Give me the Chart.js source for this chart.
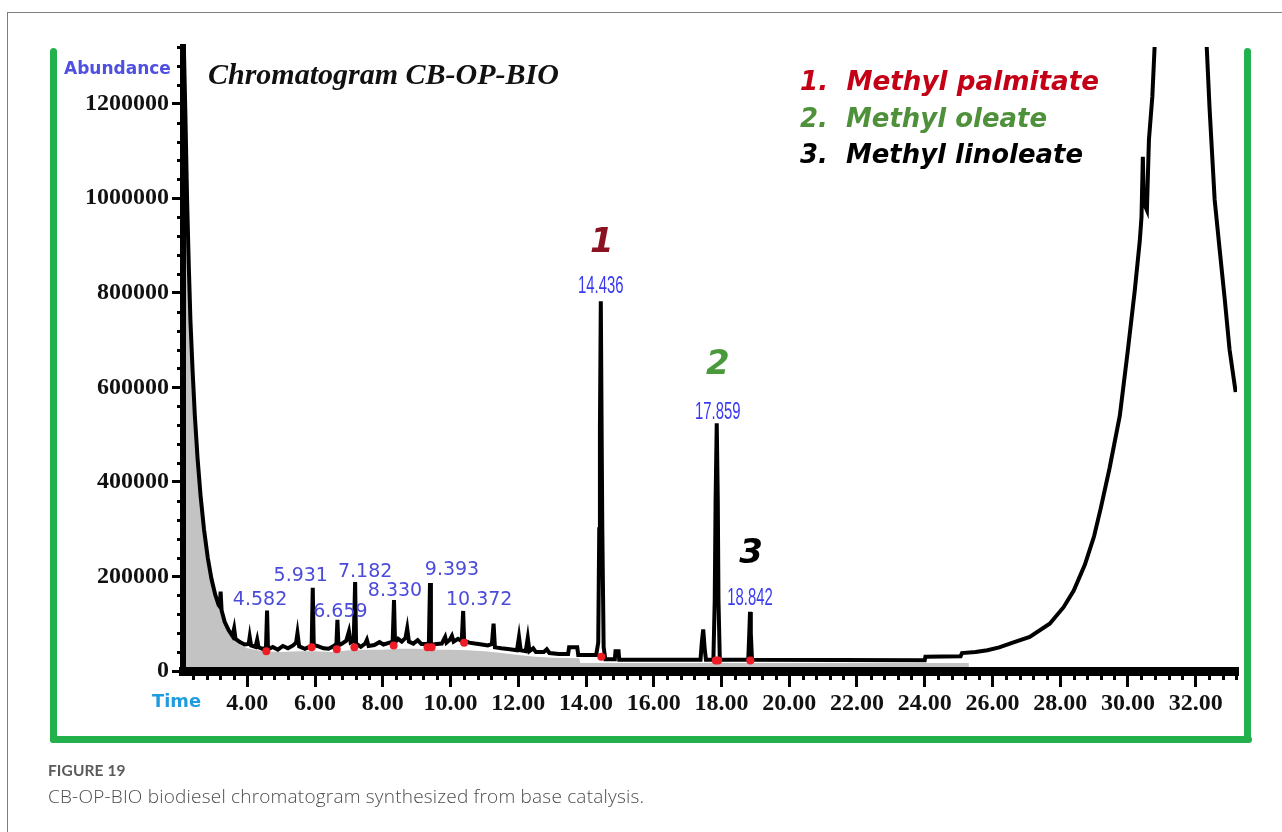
<!DOCTYPE html>
<html>
<head>
<meta charset="utf-8">
<script src="https://cdn.jsdelivr.net/npm/chart.js@4.4.0/dist/chart.umd.min.js"></script>
<style>
  html, body { margin: 0; padding: 0; background: #fff; width: 1282px; height: 832px; overflow: hidden; }
  #wrap { position: relative; width: 1282px; height: 832px; }
  #chrom { position: absolute; left: 0; top: 0; }
  .card-top { position: absolute; left: 7px; top: 12px; width: 1275px; height: 1px; background: #7d7d7d; }
  .card-left { position: absolute; left: 7px; top: 12px; width: 1px; height: 820px; background: #7d7d7d; }
  .frame { position: absolute; background: #22b14c; border-radius: 4px; }
  .fig-no { position: absolute; left: 48px; top: 761px; font: 700 15.5px 'Lato', sans-serif; color: #5b5b5b; letter-spacing: 0.1px; }
  .fig-cap { position: absolute; left: 48px; top: 783px; font: 300 19px 'Open Sans', sans-serif; color: #4d4d4d; white-space: nowrap; letter-spacing: 0.2px; }
</style>
</head>
<body>
<div id="wrap">
  <div class="card-top"></div>
  <div class="card-left"></div>
  <div class="frame" style="left:50px; top:48px; width:7px; height:695px;"></div>
  <div class="frame" style="left:50px; top:736px; width:1202px; height:7px;"></div>
  <div class="frame" style="left:1244px; top:48px; width:7px; height:695px;"></div>
  <canvas id="chrom" width="1282" height="832"></canvas>
  <div class="fig-no">FIGURE 19</div>
  <div class="fig-cap">CB-OP-BIO biodiesel chromatogram synthesized from base catalysis.</div>
</div>
<script>
// Retention time axis (min) and abundance axis
const xTickValues = [4, 6, 8, 10, 12, 14, 16, 18, 20, 22, 24, 26, 28, 30, 32];
const yTickValues = [0, 200000, 400000, 600000, 800000, 1000000, 1200000];

// Labelled peaks: retention time and apex abundance
const peakTime  = [4.582, 5.931, 6.659, 7.182, 8.330, 9.393, 10.372, 14.436, 17.859, 18.842];
const peakAbund = [128000, 176000, 108000, 188000, 150000, 186000, 127000, 782000, 524000, 125000];

// Identified compounds and the peak each one belongs to
const compoundNames = ['Methyl palmitate', 'Methyl oleate', 'Methyl linoleate'];
const compoundPeak  = [14.436, 17.859, 18.842];

// Total ion chromatogram (without the labelled apexes, which are merged in below)
const traceTime = [
  2.10, 2.17, 2.22, 2.27, 2.32, 2.38, 2.45, 2.53, 2.62, 2.72, 2.83, 2.94, 3.05, 3.15, 3.19, 3.21, 3.24, 3.33, 3.45, 3.56,
  3.61, 3.65, 3.78, 3.92, 4.04, 4.07, 4.11, 4.24, 4.29, 4.33, 4.45, 4.55, 4.61, 4.75, 4.90, 5.05, 5.20, 5.35, 5.44, 5.48,
  5.53, 5.70, 5.86, 5.90, 5.96, 6.10, 6.25, 6.40, 6.55, 6.63, 6.69, 6.80, 6.92, 7.00, 7.05, 7.14, 7.21, 7.35, 7.48, 7.53,
  7.58, 7.75, 7.90, 8.02, 8.15, 8.29, 8.36, 8.45, 8.56, 8.67, 8.72, 8.77, 8.90, 9.03, 9.14, 9.30, 9.36, 9.42, 9.58, 9.74,
  9.84, 9.88, 9.98, 10.04, 10.09, 10.22, 10.33, 10.40, 10.55, 10.72, 10.92, 11.10, 11.22, 11.27, 11.31, 11.50, 11.75, 11.96, 12.02, 12.07,
  12.22, 12.28, 12.33, 12.44, 12.52, 12.75, 12.84, 12.92, 13.20, 13.47, 13.50, 13.74, 13.77, 14.30, 14.36, 14.39, 14.41, 14.46, 14.48, 14.52,
  14.57, 14.85, 14.87, 14.96, 14.98, 17.38, 17.42, 17.46, 17.50, 17.54, 17.76, 17.80, 17.825, 17.89, 17.91, 17.95, 18.79, 18.82, 18.865, 18.90,
  24.00, 24.02, 25.06, 25.10, 25.50, 25.85, 26.20, 26.60, 27.10, 27.69, 28.10, 28.40, 28.73, 29.00, 29.20, 29.46, 29.76, 30.00, 30.20, 30.35,
  30.40, 30.44, 30.47, 30.56, 30.62, 30.72, 30.80, 31.00, 32.20, 32.32, 32.41, 32.56, 32.71, 32.86, 33.00, 33.18
];
const traceAbund = [
  1400000, 1180000, 1000000, 860000, 740000, 640000, 540000, 450000, 370000, 300000, 240000, 195000, 162000, 140000, 136000, 168000, 128000, 104000, 86000, 74000,
  90000, 68000, 61000, 56000, 57000, 72000, 54000, 51000, 66000, 50000, 47000, 49000, 46000, 51000, 45000, 53000, 48000, 54000, 60000, 80000,
  52000, 47000, 52000, 56000, 55000, 52000, 48000, 47000, 53000, 57000, 54000, 58000, 64000, 84000, 60000, 63000, 58000, 51000, 58000, 66000,
  53000, 55000, 61000, 56000, 59000, 62000, 60000, 68000, 62000, 70000, 90000, 62000, 58000, 65000, 57000, 57000, 60000, 55000, 57000, 58000,
  72000, 60000, 66000, 74000, 62000, 68000, 63000, 64000, 60000, 58000, 56000, 54000, 57000, 100000, 50000, 48000, 46000, 44000, 72000, 44000,
  42000, 70000, 42000, 48000, 40000, 40000, 46000, 38000, 36000, 36000, 50000, 50000, 34000, 34000, 60000, 300000, 510000, 510000, 300000, 50000,
  25000, 25000, 42000, 42000, 24000, 24000, 62000, 88000, 50000, 24000, 24000, 150000, 360000, 360000, 150000, 24000, 24000, 80000, 80000, 24000,
  23000, 30000, 31000, 38000, 40000, 44000, 50000, 60000, 72000, 100000, 135000, 170000, 225000, 285000, 345000, 430000, 540000, 680000, 804000, 910000,
  960000, 1088000, 990000, 975000, 1124000, 1215000, 1340000, 1700000, 1700000, 1330000, 1190000, 997000, 890000, 785000, 680000, 590000
];

// Shaded area under the chromatogram
const areaTime = [
  2.10, 2.17, 2.22, 2.27, 2.32, 2.38, 2.45, 2.53, 2.62, 2.72, 2.83, 2.94, 3.05, 3.15, 3.24, 3.33, 3.45, 3.56, 3.78, 4.00,
  4.50, 5.00, 5.50, 6.00, 6.50, 7.00, 7.50, 8.00, 8.50, 9.00, 9.50, 10.00, 10.50, 11.00, 11.50, 12.00, 12.50, 13.00, 13.80, 13.83,
  25.30, 25.31
];
const areaAbund = [
  1400000, 1180000, 1000000, 860000, 740000, 640000, 540000, 450000, 370000, 300000, 240000, 195000, 162000, 140000, 124000, 100000, 82000, 70000, 56000, 48000,
  41000, 40000, 42000, 42000, 40000, 44000, 45000, 45000, 47000, 47000, 45000, 45000, 44000, 42000, 38000, 34000, 30000, 28000, 27000, 17000,
  17000, 0
];

// Integration start/end marks at the peak feet
const markTime  = [4.56, 5.90, 6.64, 7.16, 8.32, 9.32, 9.44, 10.40, 14.45, 17.83, 17.90, 18.85];
const markAbund = [42000, 50000, 46000, 50000, 54000, 50000, 50000, 60000, 30000, 22000, 22000, 22000];

// ---- build point lists ----
const tracePts = traceTime.map((t, i) => ({ x: t, y: traceAbund[i] }))
  .concat(peakTime.map((t, i) => ({ x: t, y: peakAbund[i] })))
  .sort((a, b) => a.x - b.x);
const areaPts = areaTime.map((t, i) => ({ x: t, y: areaAbund[i] }));
const markPts = markTime.map((t, i) => ({ x: t, y: markAbund[i] }));

// label placement relative to each apex (px)
const labelOffset = [[-7, -10], [-12, -12], [3, -8], [10, -10], [1, -9], [22, -13], [16, -11], [0, -15], [1, -11], [0, -14]];
const compoundColor = ['#c40017', '#4f913a', '#000000'];
const numberColor   = ['#8a1222', '#4a9a3c', '#000000'];

const minorTicks = {
  id: 'minorTicks',
  afterDraw(chart) {
    const { ctx, scales: { x, y } } = chart;
    ctx.save();
    ctx.strokeStyle = '#000';
    ctx.lineWidth = 3;
    ctx.beginPath();
    for (let k = 6; k <= 83; k++) {
      if (k % 5 === 0) continue;
      const px = Math.round(x.getPixelForValue(k * 0.4)) + 0.5;
      ctx.moveTo(px, y.bottom);
      ctx.lineTo(px, y.bottom + 9);
    }
    for (let k = 1; k <= 33; k++) {
      if (k % 5 === 0) continue;
      const py = Math.round(y.getPixelForValue(k * 40000)) + 0.5;
      ctx.moveTo(x.left, py);
      ctx.lineTo(x.left - 6, py);
    }
    ctx.stroke();
    ctx.restore();
  }
};

const annotations = {
  id: 'annotations',
  afterDraw(chart) {
    const { ctx, scales: { x, y } } = chart;
    ctx.save();
    ctx.textAlign = 'center';
    ctx.textBaseline = 'middle';
    peakTime.forEach((t, i) => {
      const cx = x.getPixelForValue(t) + labelOffset[i][0];
      const cy = y.getPixelForValue(peakAbund[i]) + labelOffset[i][1];
      const txt = t.toFixed(3);
      if (compoundPeak.includes(t)) {
        ctx.save();
        ctx.translate(cx, cy);
        ctx.scale(0.93, 1.5);
        ctx.fillStyle = '#3a3af0';
        ctx.font = "16px 'Liberation Sans'";
        ctx.fillText(txt, 0, 0);
        ctx.restore();
      } else {
        ctx.fillStyle = '#4b4bda';
        ctx.font = "19px 'DejaVu Sans'";
        ctx.fillText(txt, cx, cy);
      }
    });
    // compound numbers above their peaks
    compoundPeak.forEach((t, i) => {
      const j = peakTime.indexOf(t);
      const cx = x.getPixelForValue(t) + 1;
      const cy = y.getPixelForValue(peakAbund[j]) - 58;
      ctx.fillStyle = numberColor[i];
      ctx.font = "italic bold 34px 'DejaVu Sans'";
      ctx.fillText(String(i + 1), cx, cy);
    });
    // title
    ctx.textAlign = 'left';
    ctx.textBaseline = 'alphabetic';
    ctx.fillStyle = '#111';
    ctx.font = "italic bold 30px 'Liberation Serif'";
    ctx.fillText('Chromatogram CB-OP-BIO', 208, 84, 352);
    // compound list
    ctx.font = "italic bold 27px 'DejaVu Sans'";
    const widths = [299, 247, 283];
    compoundNames.forEach((n, i) => {
      ctx.fillStyle = compoundColor[i];
      ctx.fillText((i + 1) + '.  ' + n, 800, 90 + i * 36.5, widths[i]);
    });
    // axis captions
    ctx.fillStyle = '#4f4fe2';
    ctx.font = "bold 17px 'DejaVu Sans'";
    ctx.fillText('Abundance', 64, 74, 111);
    ctx.fillStyle = '#1f9be0';
    ctx.font = "bold 18px 'DejaVu Sans'";
    ctx.fillText('Time', 152, 707, 49);
    ctx.restore();
  }
};

new Chart(document.getElementById('chrom'), {
  type: 'scatter',
  data: {
    datasets: [
      { data: markPts, showLine: false, pointRadius: 4, pointBackgroundColor: '#ee1c24', pointBorderWidth: 0, order: 0 },
      { data: tracePts, showLine: true, borderColor: '#000', borderWidth: 4, pointRadius: 0, fill: false, tension: 0, order: 1 },
      { data: areaPts, showLine: true, borderWidth: 0, borderColor: 'rgba(0,0,0,0)', backgroundColor: '#c3c3c3', fill: 'origin', pointRadius: 0, tension: 0, order: 2 }
    ]
  },
  options: {
    responsive: false,
    animation: false,
    devicePixelRatio: 1,
    layout: { padding: { left: 0, top: 47, right: 45, bottom: 0 } },
    plugins: { legend: { display: false }, tooltip: { enabled: false } },
    scales: {
      x: {
        type: 'linear', min: 2.1, max: 33.22,
        afterBuildTicks: (axis) => { axis.ticks = xTickValues.map(v => ({ value: v })); },
        afterFit: (s) => { s.height = 161; },
        ticks: { autoSkip: false, maxRotation: 0, padding: 2, color: '#111',
          font: { family: 'Liberation Serif', weight: 'bold', size: 24 },
          callback: (v) => Number(v).toFixed(2) },
        grid: { drawOnChartArea: false, drawTicks: true, tickLength: 16, lineWidth: 3, color: '#000' },
        border: { display: true, color: '#000', width: 9, z: 1 }
      },
      y: {
        type: 'linear', min: 0, max: 1320000,
        afterBuildTicks: (axis) => { axis.ticks = yTickValues.map(v => ({ value: v })); },
        afterFit: (s) => { s.width = 183; },
        ticks: { autoSkip: false, padding: 3, color: '#111',
          font: { family: 'Liberation Serif', weight: 'bold', size: 24 },
          callback: (v) => String(v) },
        grid: { drawOnChartArea: false, drawTicks: true, tickLength: 11, lineWidth: 3, color: '#000' },
        border: { display: true, color: '#000', width: 6, z: 1 }
      }
    }
  },
  plugins: [minorTicks, annotations]
});
</script>
</body>
</html>
